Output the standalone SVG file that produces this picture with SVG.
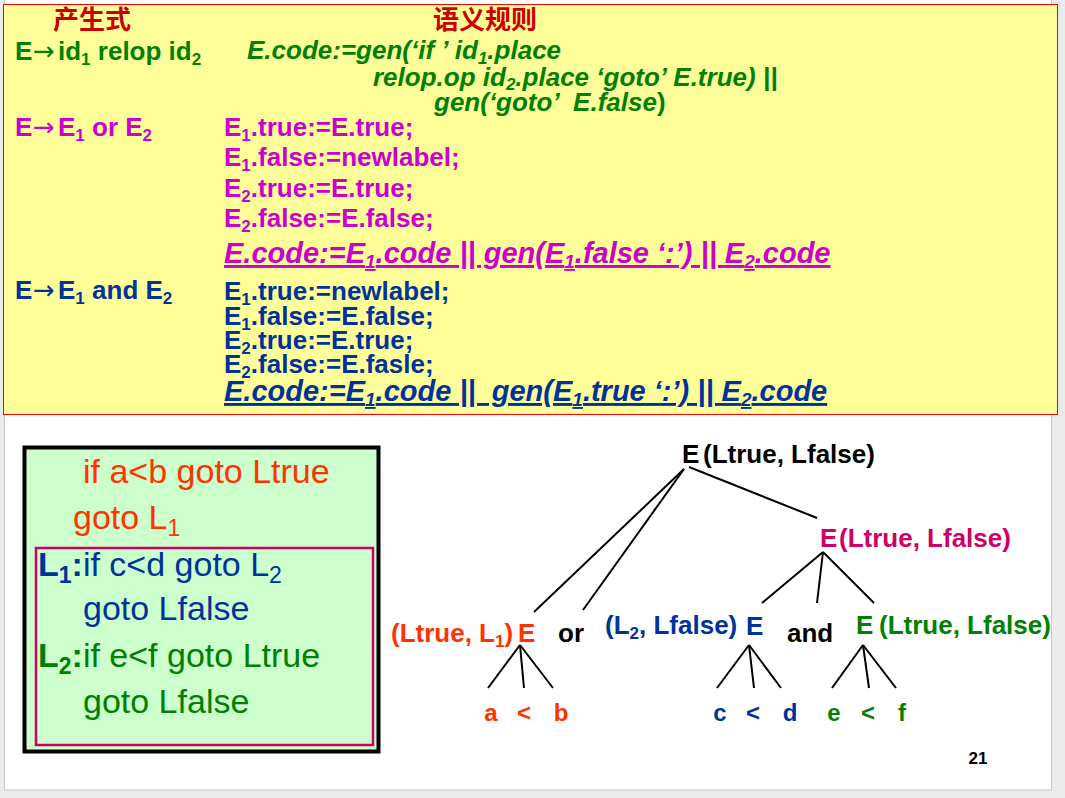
<svg xmlns="http://www.w3.org/2000/svg" width="1065" height="798" viewBox="0 0 1065 798">
<style>
text{font-family:"Liberation Sans",Arial,"Noto Sans CJK SC",sans-serif;white-space:pre}
.b{font-weight:bold;font-size:26px}
.i{font-style:italic}
.u{text-decoration:underline}
.big{font-size:29px}
.arr{font-family:"DejaVu Sans",sans-serif;font-weight:normal}
.cjk{font-family:"Noto Sans CJK SC",sans-serif;font-weight:bold;font-size:26px;fill:#cc0000}
.g{fill:#008000}
.m{fill:#cc00cc}
.bl{fill:#003399}
.o{fill:#ff3300}
.pk{fill:#cc0066}
.k{fill:#000}
.box{font-size:34px}
.leaf{font-weight:bold;font-size:24px;text-anchor:middle}
.edge{stroke:#000;stroke-width:2;fill:none}
</style>
<rect x="0" y="0" width="1065" height="798" fill="#ebebeb"/>
<rect x="4.5" y="-1" width="1047" height="791" fill="#fff" stroke="#c8c8c8"/>

<g id="rules">
<rect x="3.5" y="4.5" width="1054" height="410" fill="#ffff99" stroke="#ff0000" stroke-width="1"/>
<text class="cjk" x="53" y="29">产生式</text>
<text class="cjk" x="433" y="29">语义规则</text>

<text class="b g" x="15" y="60">E<tspan class="arr" x="33">→</tspan><tspan x="58">id</tspan><tspan font-size="17" dy="5">1</tspan><tspan dy="-5"> relop id</tspan><tspan font-size="17" dy="5">2</tspan></text>
<text class="b i g" x="247" y="59">E.code:=gen(‘if ’ id<tspan font-size="17" dy="5">1</tspan><tspan dy="-5">.place</tspan></text>
<text class="b i g" x="373" y="86">relop.op id<tspan font-size="17" dy="4">2</tspan><tspan dy="-4">.place ‘goto’ E.true) ||</tspan></text>
<text class="b i g" x="434" y="111">gen(‘goto’  E.false<tspan font-style="normal">)</tspan></text>

<text class="b m" x="15" y="136">E<tspan class="arr" x="33">→</tspan><tspan x="58">E</tspan><tspan font-size="17" dy="5">1</tspan><tspan dy="-5"> or E</tspan><tspan font-size="17" dy="5">2</tspan></text>
<text class="b m" x="224" y="136">E<tspan font-size="17" dy="5">1</tspan><tspan dy="-5">.true:=E.true;</tspan></text>
<text class="b m" x="224" y="166">E<tspan font-size="17" dy="5">1</tspan><tspan dy="-5">.false:=newlabel;</tspan></text>
<text class="b m" x="224" y="197">E<tspan font-size="17" dy="5">2</tspan><tspan dy="-5">.true:=E.true;</tspan></text>
<text class="b m" x="224" y="227">E<tspan font-size="17" dy="5">2</tspan><tspan dy="-5">.false:=E.false;</tspan></text>
<text class="b i u big m" x="224" y="263">E.code:=E<tspan font-size="19" dy="5">1</tspan><tspan dy="-5">.code || gen(E</tspan><tspan font-size="19" dy="5">1</tspan><tspan dy="-5">.false ‘:’) || E</tspan><tspan font-size="19" dy="5">2</tspan><tspan dy="-5">.code</tspan></text>

<text class="b bl" x="15" y="299">E<tspan class="arr" x="33">→</tspan><tspan x="58">E</tspan><tspan font-size="17" dy="5">1</tspan><tspan dy="-5"> and E</tspan><tspan font-size="17" dy="5">2</tspan></text>
<text class="b bl" x="224" y="300">E<tspan font-size="17" dy="5">1</tspan><tspan dy="-5">.true:=newlabel;</tspan></text>
<text class="b bl" x="224" y="325">E<tspan font-size="17" dy="5">1</tspan><tspan dy="-5">.false:=E.false;</tspan></text>
<text class="b bl" x="224" y="349">E<tspan font-size="17" dy="5">2</tspan><tspan dy="-5">.true:=E.true;</tspan></text>
<text class="b bl" x="224" y="373">E<tspan font-size="17" dy="5">2</tspan><tspan dy="-5">.false:=E.fasle;</tspan></text>
<text class="b i u big bl" x="224" y="401">E.code:=E<tspan font-size="19" dy="5">1</tspan><tspan dy="-5">.code ||  gen(E</tspan><tspan font-size="19" dy="5">1</tspan><tspan dy="-5">.true ‘:’) || E</tspan><tspan font-size="19" dy="5">2</tspan><tspan dy="-5">.code</tspan></text>
</g>

<g id="code-box">
<rect x="24.5" y="447.5" width="354" height="304" fill="#ccffcc" stroke="#000" stroke-width="4"/>
<rect x="36" y="548" width="337" height="197" fill="none" stroke="#cc0066" stroke-width="2.5"/>
<text class="box o" x="83" y="483">if a&lt;b goto Ltrue</text>
<text class="box o" x="73" y="529">goto L<tspan font-size="23" dy="7">1</tspan></text>
<text class="box bl" x="38" y="576"><tspan font-weight="bold">L</tspan><tspan font-weight="bold" font-size="23" dy="7">1</tspan><tspan font-weight="bold" dy="-7">:</tspan>if c&lt;d goto L<tspan font-size="23" dy="7">2</tspan></text>
<text class="box bl" x="83" y="620">goto Lfalse</text>
<text class="box g" x="38" y="667"><tspan font-weight="bold">L</tspan><tspan font-weight="bold" font-size="23" dy="7">2</tspan><tspan font-weight="bold" dy="-7">:</tspan>if e&lt;f goto Ltrue</text>
<text class="box g" x="83" y="713">goto Lfalse</text>
</g>

<g id="connectors">
<line class="edge" x1="684" y1="469" x2="534" y2="612"/>
<line class="edge" x1="684" y1="469" x2="583" y2="610"/>
<line class="edge" x1="689" y1="467" x2="817" y2="518"/>
<line class="edge" x1="823" y1="552" x2="762" y2="603"/>
<line class="edge" x1="823" y1="552" x2="817" y2="603"/>
<line class="edge" x1="823" y1="552" x2="874" y2="603"/>
<line class="edge" x1="520" y1="645" x2="488" y2="688"/>
<line class="edge" x1="520" y1="645" x2="524" y2="688"/>
<line class="edge" x1="520" y1="645" x2="553" y2="688"/>
<line class="edge" x1="749" y1="645" x2="717" y2="688"/>
<line class="edge" x1="749" y1="645" x2="754" y2="688"/>
<line class="edge" x1="749" y1="645" x2="781" y2="688"/>
<line class="edge" x1="863" y1="645" x2="832" y2="688"/>
<line class="edge" x1="863" y1="645" x2="869" y2="688"/>
<line class="edge" x1="863" y1="645" x2="896" y2="688"/>
</g>

<g id="node-root">
<text class="b k" x="682" y="463">E</text>
<text class="b k" x="703" y="463">(Ltrue, Lfalse)</text>
</g>
<g id="node-and">
<text class="b pk" x="820" y="547">E</text>
<text class="b pk" x="839" y="547">(Ltrue, Lfalse)</text>
</g>
<g id="node-e1">
<text class="b o" x="391" y="642">(Ltrue, L<tspan font-size="17" dy="5">1</tspan><tspan dy="-5">)</tspan></text>
<text class="b o" x="518" y="642">E</text>
</g>
<g id="node-or">
<text class="b k" x="558" y="642">or</text>
</g>
<g id="node-e2">
<text class="b bl" x="605" y="634">(L<tspan font-size="17" dy="5">2</tspan><tspan dy="-5">, Lfalse)</tspan></text>
<text class="b bl" x="746" y="635">E</text>
</g>
<g id="node-and-kw">
<text class="b k" x="787" y="642">and</text>
</g>
<g id="node-e3">
<text class="b g" x="856" y="634">E</text>
<text class="b g" x="879" y="634">(Ltrue, Lfalse)</text>
</g>
<g id="leaves-ab">
<text class="leaf o" x="491" y="721">a</text>
<text class="leaf o" x="524" y="721">&lt;</text>
<text class="leaf o" x="561" y="721">b</text>
</g>
<g id="leaves-cd">
<text class="leaf bl" x="720" y="721">c</text>
<text class="leaf bl" x="753" y="721">&lt;</text>
<text class="leaf bl" x="790" y="721">d</text>
</g>
<g id="leaves-ef">
<text class="leaf g" x="834" y="721">e</text>
<text class="leaf g" x="868" y="721">&lt;</text>
<text class="leaf g" x="902" y="721">f</text>
</g>
<g id="page-number">
<text x="978" y="764" font-weight="bold" font-size="17" text-anchor="middle" fill="#000">21</text>
</g>
</svg>
